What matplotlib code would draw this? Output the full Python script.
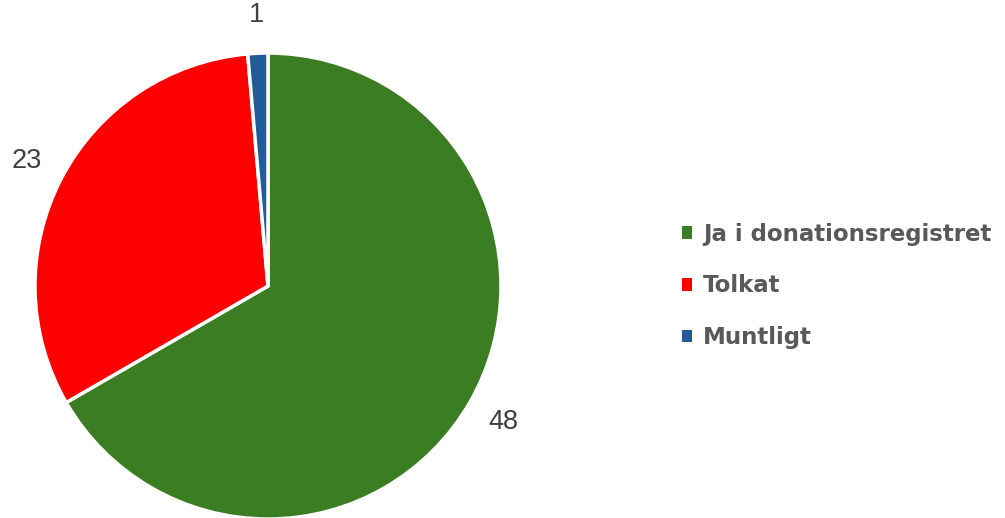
import matplotlib.pyplot as plt

# dados do gráfico
categorias = ['Ja i donationsregistret', 'Tolkat', 'Muntligt']
valores = [48, 23, 1]
cores = ['#3B7D23', '#FF0000', '#1F5C99']

fig = plt.figure(figsize=(10.05, 5.18), dpi=100)
ax = fig.add_axes([0.0348, -0.002, 0.4637, 0.8996])

wedges, textos = ax.pie(valores, labels=[str(v) for v in valores], colors=cores,
                        startangle=90, counterclock=False, labeldistance=1.165,
                        wedgeprops=dict(edgecolor='white', linewidth=2.5),
                        textprops=dict(fontsize=19.5, color='#404040', family='Liberation Sans'))
for t in textos:
    t.set_ha('center')
    t.set_va('center')
ax.set_xlim(-1, 1)
ax.set_ylim(-1, 1)
ax.set_aspect('equal')

leg = fig.legend(wedges, categorias, loc='center left', bbox_to_anchor=(0.658, 0.448),
                 frameon=False, handlelength=0.46, handleheight=0.46, handletextpad=0.45,
                 labelspacing=1.25,
                 prop=dict(size=16.5, weight='bold', family='DejaVu Sans'))
for t in leg.get_texts():
    t.set_color('#595959')
for h in leg.legend_handles:
    h.set_edgecolor('none')

fig.savefig('out.png', dpi=100)
